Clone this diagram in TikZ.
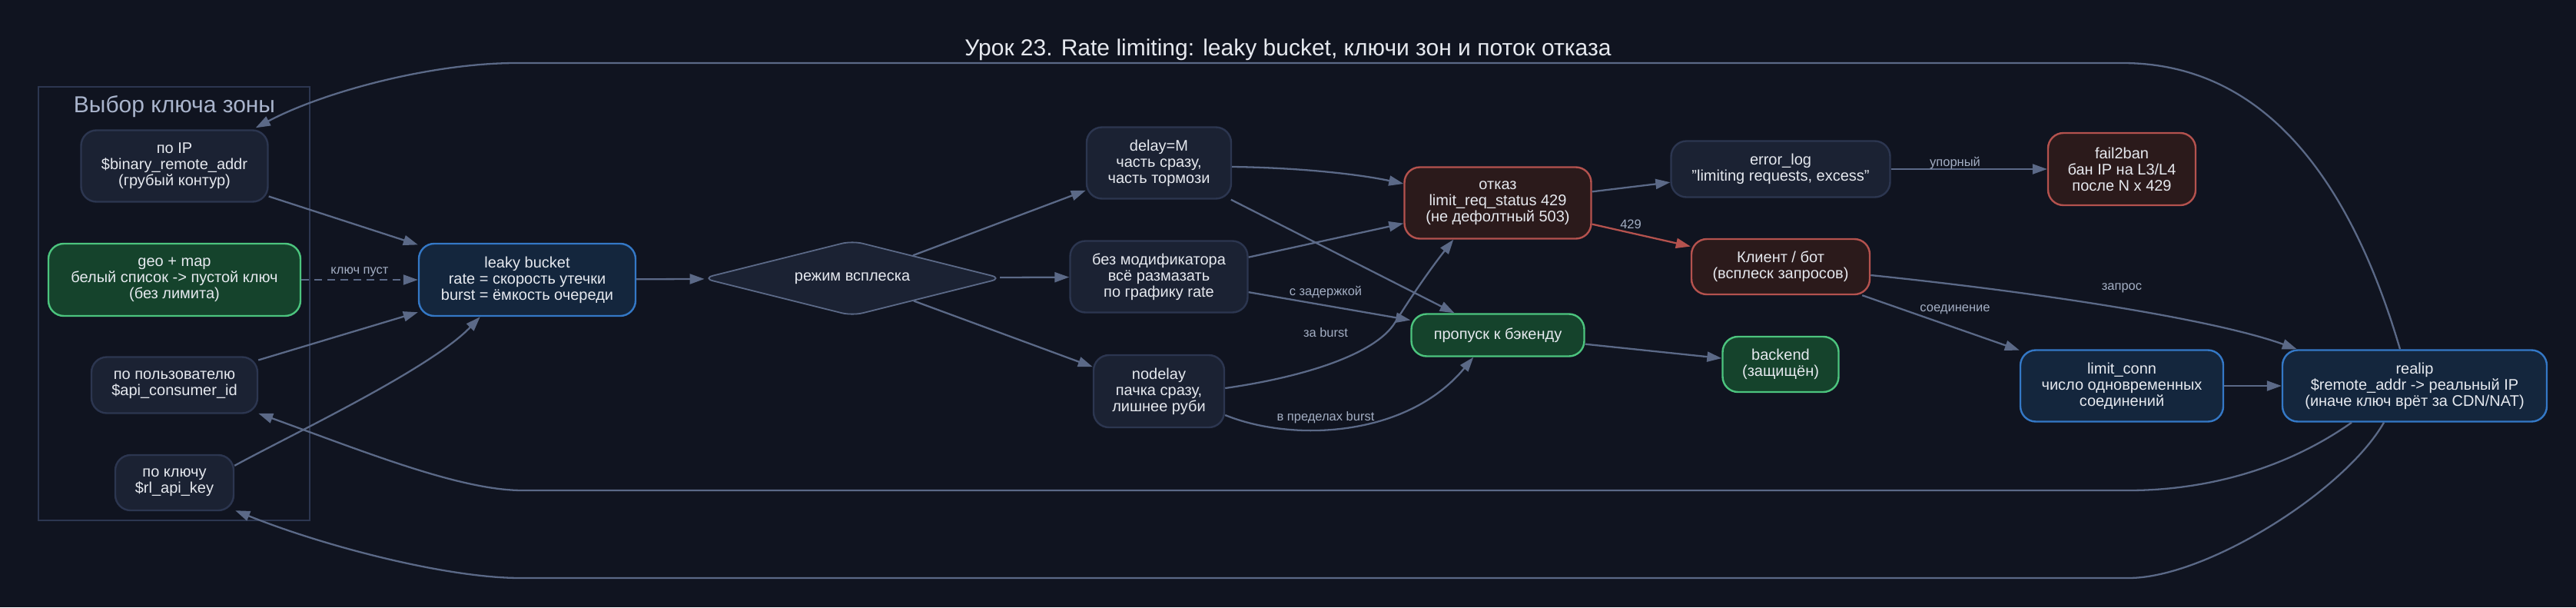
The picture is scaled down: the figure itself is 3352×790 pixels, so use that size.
\documentclass[tikz,border=0pt]{standalone}
\usepackage{fontspec}
\setmainfont{Liberation Sans}
\usetikzlibrary{shapes.geometric,arrows.meta,calc}
\definecolor{bg}{HTML}{101420}
\definecolor{nodefill}{HTML}{1B2233}
\definecolor{nodeborder}{HTML}{2C3650}
\definecolor{gfill}{HTML}{15432C}
\definecolor{gborder}{HTML}{4CC47E}
\definecolor{bfill}{HTML}{14263D}
\definecolor{bborder}{HTML}{3478C6}
\definecolor{rfill}{HTML}{2B1A1B}
\definecolor{rborder}{HTML}{B4524E}
\definecolor{edgecol}{HTML}{5B6987}
\definecolor{txt}{HTML}{E6E9EF}
\definecolor{labeltxt}{HTML}{A3AEC3}
\definecolor{clusterborder}{HTML}{2C3650}
\definecolor{clusterlabel}{HTML}{A9B4CC}
\tikzset{
  wh/.style 2 args={minimum width=#1pt, minimum height=#2pt},
  box/.style={rectangle, rounded corners=20pt, draw=nodeborder, fill=nodefill,
    line width=2.4pt, text=txt, align=center, inner sep=0pt,
    font=\fontsize{20}{21}\selectfont},
  gbox/.style={box, draw=gborder, fill=gfill},
  bbox/.style={box, draw=bborder, fill=bfill},
  rbox/.style={box, draw=rborder, fill=rfill},
  modeshape/.style={box, shape=diamond, draw=edgecol, line width=1.8pt, rounded corners=14pt, shape aspect=4},
  conn/.style={draw=edgecol, line width=2.3pt, -{Triangle[length=19pt,width=13pt]}},
  rededge/.style={draw=rborder},
  elabel/.style={font=\fontsize{16.5}{18}\selectfont, text=labeltxt, inner sep=1pt},
}
\begin{document}
\begin{tikzpicture}[x=1pt,y=-1pt]
\useasboundingbox (0,0) rectangle (3352,790);
\fill[bg] (0,0) rectangle (3352,790);

% title
\node[text=txt, font=\fontsize{30}{36}\selectfont] (title) at (1676,65) {Урок 23. Rate limiting: leaky bucket, ключи зон и поток отказа};

% cluster
\draw[clusterborder, line width=2pt] (50,113) rectangle (403,677);
\node[text=clusterlabel, font=\fontsize{30}{35}\selectfont] (clabel) at (227,139) {Выбор ключа зоны};

% nodes
\node[box, wh={243}{93}] (poip) at (227,216) {по IP\\\$binary\_remote\_addr\\(грубый контур)};
\node[gbox, wh={328}{94}] (geo) at (227,364) {geo + map\\белый список -> пустой ключ\\(без лимита)};
\node[box, wh={216}{73}] (polz) at (227,501) {по пользователю\\\$api\_consumer\_id};
\node[box, wh={154}{72}] (klyuch) at (227,628) {по ключу\\\$rl\_api\_key};
\node[bbox, wh={282}{94}] (leaky) at (686,364) {leaky bucket\\rate = скорость утечки\\burst = ёмкость очереди};
\node[modeshape, wh={390}{98}] (mode) at (1109,362) {режим всплеска};
\node[box, wh={188}{93}] (delay) at (1508,212) {delay=M\\часть сразу,\\часть тормози};
\node[box, wh={231}{93}] (bez) at (1508,360) {без модификатора\\всё размазать\\по графику rate};
\node[box, wh={170}{94}] (nodelay) at (1508,509) {nodelay\\пачка сразу,\\лишнее руби};
\node[rbox, wh={243}{93}] (otkaz) at (1949,264) {отказ\\limit\_req\_status 429\\(не дефолтный 503)};
\node[gbox, wh={225}{55}] (propusk) at (1949,436) {пропуск к бэкенду};
\node[box, wh={285}{73}] (errlog) at (2317,220) {error\_log\\"limiting requests, excess"};
\node[rbox, wh={232}{72}] (client) at (2317,347) {Клиент / бот\\(всплеск запросов)};
\node[gbox, wh={151}{72}] (backend) at (2317,474) {backend\\(защищён)};
\node[rbox, wh={192}{94}] (fail2ban) at (2761,220) {fail2ban\\бан IP на L3/L4\\после N x 429};
\node[bbox, wh={264}{93}] (limitconn) at (2761,502) {limit\_conn\\число одновременных\\соединений};
\node[bbox, wh={344}{93}] (realip) at (3142,502) {realip\\\$remote\_addr -> реальный IP\\(иначе ключ врёт за CDN/NAT)};

% edges
\draw[conn] (poip) -- (leaky);
\draw[conn, dashed, dash pattern=on 10pt off 7pt] (geo) -- (leaky);
\draw[conn] (polz) -- (leaky);
\draw[conn] ($(klyuch.north east)+(0,15)$) .. controls (380,565) and (560,480) .. ($(leaky.south west)+(81,0)$);
\draw[conn] (leaky) -- (mode);
\draw[conn] (mode) -- (delay);
\draw[conn] (mode) -- (bez);
\draw[conn] (mode) -- (nodelay);
\draw[conn] ($(delay.east)+(0,5)$) .. controls (1680,218) and (1760,225) .. ($(otkaz.west)+(0,-25)$);
\draw[conn] (delay) -- (propusk);
\draw[conn] (bez) -- (otkaz);
\draw[conn] (bez) -- (propusk);
\draw[conn] ($(nodelay.east)+(0,-4)$) .. controls (1700,490) and (1790,460) .. (1815,420) .. controls (1840,380) and (1865,345) .. ($(otkaz.south west)+(65,0)$);
\draw[conn] ($(nodelay.east)+(0,31)$) .. controls (1680,575) and (1830,570) .. ($(propusk.south west)+(82,0)$);
\draw[conn] (otkaz) -- (errlog);
\draw[conn, rededge] (otkaz) -- (client);
\draw[conn] (propusk) -- (backend);
\draw[conn] (errlog) -- (fail2ban);
\draw[conn] (client) -- (limitconn);
\draw[conn] ($(client.east)+(0,11)$) .. controls (2650,380) and (2880,415) .. ($(realip.north west)+(20,0)$);
\draw[conn] (limitconn) -- (realip);
\draw[conn] ($(realip.north)+(-19,0)$) .. controls (3060,240) and (2950,82) .. (2762,82) -- (672,82) .. controls (560,82) and (420,120) .. ($(poip.north east)+(-17,-2)$);
\draw[conn] ($(realip.south)+(-82,0)$) .. controls (2960,620) and (2850,638) .. (2770,638) -- (680,638) .. controls (600,638) and (480,590) .. ($(polz.south east)+(0,-1)$);
\draw[conn] ($(realip.south)+(-40,0)$) .. controls (3050,640) and (2870,752) .. (2770,752) -- (677,752) .. controls (580,752) and (420,710) .. ($(klyuch.south east)+(1,-1)$);

% edge labels
\node[elabel] (l1) at (468,354) {ключ пуст};
\node[elabel] (l2) at (1725,380) {с задержкой};
\node[elabel] (l3) at (1725,433) {за burst};
\node[elabel] (l4) at (1725,543) {в пределах burst};
\node[elabel] (l5) at (2122,292) {429};
\node[elabel] (l6) at (2544,212) {упорный};
\node[elabel] (l7) at (2544,403) {соединение};
\node[elabel] (l8) at (2761,375) {запрос};
\end{tikzpicture}
\end{document}
